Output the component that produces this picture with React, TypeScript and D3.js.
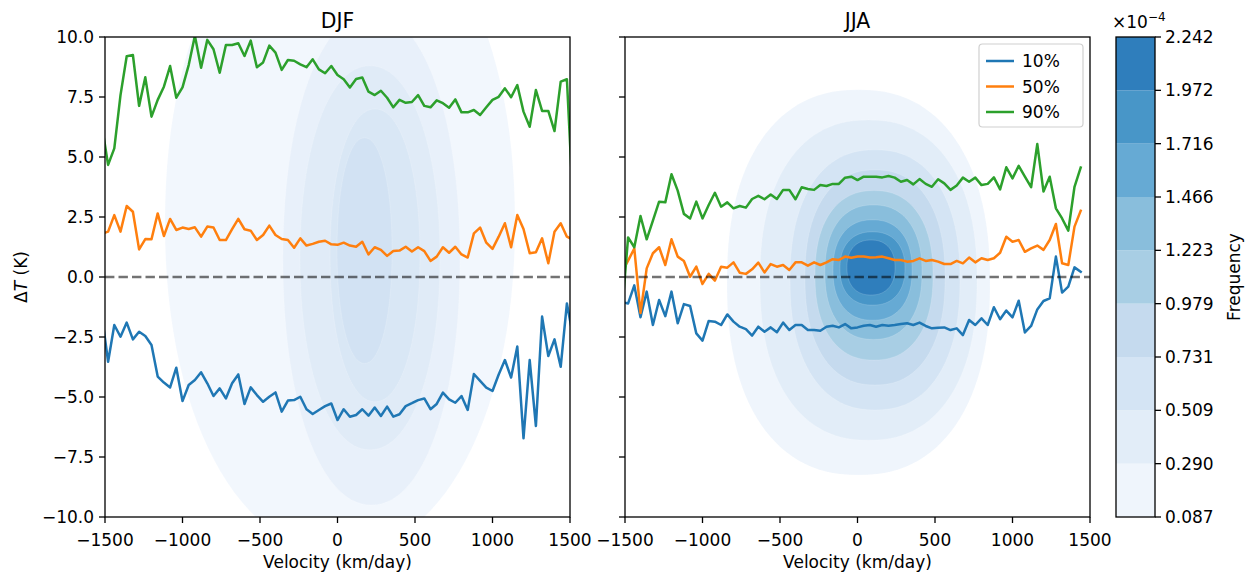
import React from "react";
import * as d3 from "d3";

// ---------------- DATA ----------------
const BIN_START = -1520;
const BIN_STEP = 40;

const djfP10 = [-1.6, -3.53, -2.0, -2.49, -1.9, -2.6, -2.28, -2.46, -2.83, -4.15,
  -4.4, -4.6, -3.78, -5.17, -4.5, -4.29, -3.97, -4.43, -4.96, -4.64,
  -5.06, -4.43, -4.06, -5.29, -4.6, -4.92, -5.2, -4.99, -4.81, -5.61,
  -5.15, -5.13, -4.99, -5.51, -5.71, -5.54, -5.38, -5.27, -5.96, -5.51,
  -5.82, -5.75, -5.51, -5.78, -5.44, -5.79, -5.4, -5.82, -5.72, -5.38,
  -5.26, -5.13, -5.06, -5.51, -5.29, -4.82, -5.1, -5.24, -4.96, -5.54,
  -4.04, -4.33, -4.61, -4.75, -4.06, -3.46, -4.19, -2.9, -6.72, -3.46,
  -6.21, -1.65, -3.29, -2.6, -3.74, -1.1, -2.5];
const djfP50 = [1.8, 1.89, 2.58, 1.89, 2.96, 2.72, 1.15, 1.58, 1.57, 2.65,
  1.71, 2.42, 1.96, 2.06, 2.0, 2.07, 1.68, 2.1, 2.06, 1.54,
  1.54, 1.99, 2.42, 1.99, 1.93, 1.54, 1.75, 2.14, 1.75, 1.58,
  1.54, 1.22, 1.61, 1.31, 1.38, 1.47, 1.51, 1.36, 1.34, 1.43,
  1.31, 1.26, 1.47, 0.94, 1.24, 1.13, 0.88, 1.08, 1.1, 1.26,
  1.06, 1.24, 1.08, 0.67, 0.85, 1.24, 1.01, 1.26, 0.94, 0.81,
  1.82, 2.06, 1.43, 1.17, 1.68, 2.24, 1.24, 2.58, 2.0, 0.99,
  1.03, 1.61, 0.57, 1.89, 2.24, 1.68, 1.55];
const djfP90 = [6.3, 4.67, 5.36, 7.58, 9.2, 9.25, 7.13, 8.32, 6.68, 7.38,
  7.93, 8.79, 7.47, 7.9, 8.83, 10.05, 8.72, 9.88, 9.49, 8.51,
  9.67, 9.67, 9.74, 9.21, 9.85, 8.74, 8.94, 9.64, 9.35, 8.63,
  9.04, 9.01, 8.86, 8.74, 9.07, 8.65, 8.49, 8.79, 8.42, 8.24,
  7.9, 8.25, 8.31, 7.72, 7.58, 7.76, 7.47, 7.07, 7.38, 7.26,
  7.29, 7.58, 7.13, 7.07, 7.36, 7.24, 7.05, 7.4, 6.86, 6.86,
  6.96, 6.75, 7.07, 7.38, 7.51, 7.86, 7.49, 8.0, 6.89, 6.26,
  7.79, 6.92, 6.92, 6.08, 8.14, 8.24, 3.0];

const jjaP10 = [-1.05, -1.1, -0.35, -1.68, -0.61, -2.0, -0.96, -1.63, -0.61, -1.93,
  -1.13, -1.21, -2.35, -2.65, -1.83, -1.86, -2.0, -1.56, -1.86, -2.07,
  -2.17, -2.44, -2.07, -2.28, -2.1, -2.3, -1.9, -2.21, -2.0, -2.0,
  -2.21, -2.21, -2.24, -2.07, -2.03, -2.1, -1.96, -2.14, -2.1, -2.03,
  -2.0, -2.07, -2.0, -2.03, -2.0, -1.96, -1.93, -2.0, -1.9, -2.04,
  -2.14, -2.11, -2.1, -2.21, -2.14, -2.42, -1.79, -2.0, -1.72, -2.0,
  -1.26, -1.76, -1.4, -1.68, -0.99, -2.31, -2.04, -1.35, -1.0, -0.89,
  0.85, -0.65, -0.4, 0.4, 0.22];
const jjaP50 = [0.2, 0.68, 1.19, -1.5, 0.36, 0.99, 1.24, 0.5, 1.57, 0.85,
  0.67, 0.01, 0.43, -0.29, 0.13, -0.15, 0.43, 0.39, 0.61, 0.18,
  0.13, 0.32, 0.6, 0.19, 0.54, 0.43, 0.5, 0.29, 0.61, 0.61,
  0.47, 0.61, 0.5, 0.61, 0.74, 0.71, 0.85, 0.8, 0.85, 0.85,
  0.81, 0.82, 0.85, 0.78, 0.71, 0.71, 0.64, 0.67, 0.78, 0.67,
  0.71, 0.64, 0.54, 0.54, 0.67, 0.57, 0.81, 0.61, 0.78, 0.71,
  0.78, 1.01, 1.68, 1.47, 1.54, 1.05, 1.19, 1.31, 1.13, 1.54,
  2.21, 0.57, 0.5, 2.1, 2.76];
const jjaP90 = [-1.5, 1.65, 1.24, 2.54, 1.57, 2.35, 3.14, 3.11, 4.28, 3.6,
  2.63, 2.44, 3.14, 2.44, 3.0, 3.51, 2.93, 3.11, 2.86, 2.96,
  2.89, 3.25, 3.38, 3.24, 3.44, 3.25, 3.63, 3.63, 3.24, 3.74,
  3.67, 3.63, 3.83, 3.79, 3.88, 3.88, 4.14, 4.18, 4.04, 4.18,
  4.18, 4.18, 4.15, 4.21, 4.14, 3.97, 4.04, 3.86, 4.08, 3.88,
  3.76, 4.07, 3.9, 3.63, 3.81, 4.14, 3.97, 4.14, 3.83, 3.88,
  4.15, 3.65, 4.57, 4.11, 4.63, 4.18, 3.74, 5.54, 3.56, 4.18,
  2.86, 2.44, 1.93, 3.76, 4.56];

// Density level boundaries (x1e-4) and band colours
const levelBounds = [0.087, 0.290, 0.509, 0.731, 0.979, 1.223, 1.466, 1.716, 1.972, 2.242];
const levelColors = ["#eff5fc", "#e2edf8", "#d4e4f4", "#c5daee", "#a8cee4", "#89bedc", "#66aad4", "#4896c8", "#2f7ebc"];
const djfColors = ["#f2f7fd", "#e8f0fa", "#e0ebf7", "#d9e7f5", "#d2e2f3"];

// Contour extents per level: [vMin, vMax, dTMin, dTMax]
const djfContours = [
  [-1113, 1145, -11.5, 16.0],
  [-352, 790, -9.5, 11.0],
  [-242, 661, -7.2, 8.8],
  [-48, 532, -5.2, 7.0],
  [-3, 352, -3.6, 5.8],
];
const jjaContours = [
  [-842, 855, -8.25, 7.8],
  [-629, 771, -6.8, 6.54],
  [-435, 661, -5.54, 5.3],
  [-339, 565, -4.5, 4.46],
  [-274, 487, -3.46, 3.6],
  [-210, 416, -2.6, 3.0],
  [-158, 352, -1.8, 2.38],
  [-113, 306, -1.17, 1.88],
  [-68, 242, -0.75, 1.54],
];

const xTicks = [-1500, -1000, -500, 0, 500, 1000, 1500];
const yTicks = [-10, -7.5, -5, -2.5, 0, 2.5, 5, 7.5, 10];
const seriesNames = ["10%", "50%", "90%"];
const seriesColors = ["#1f77b4", "#ff7f0e", "#2ca02c"];

// ---------------- LAYOUT ----------------
const W = 1250, H = 575;
const TOP = 37, BOTTOM = 517;
const panels = [
  { key: "djf", title: "DJF", x0: 105, x1: 570, series: [djfP10, djfP50, djfP90], contours: djfContours, colors: djfColors, n: 2.1, yLabels: true },
  { key: "jja", title: "JJA", x0: 625, x1: 1090, series: [jjaP10, jjaP50, jjaP90], contours: jjaContours, colors: levelColors, n: 2.3, yLabels: false },
];
const CB = { x0: 1116, x1: 1155 };
const FONT = "DejaVu Sans, Liberation Sans, sans-serif";
const FS = 17;
const TICK = 6;
const SPINE = 1.3;

const fmtTick = (v: number) => String(v).replace("-", "\u2212");
const fmtY = (v: number) => v.toFixed(1).replace("-", "\u2212");

function blobPath(ext: number[], xs: any, ys: any, n: number) {
  const [a, b, c, d] = ext;
  const cx = (a + b) / 2, rx = (b - a) / 2, cy = (c + d) / 2, ry = (d - c) / 2;
  const pts: [number, number][] = d3.range(0, 360, 3).map((deg) => {
    const t = (deg * Math.PI) / 180;
    const ct = Math.cos(t), st = Math.sin(t);
    const px = cx + rx * Math.sign(ct) * Math.pow(Math.abs(ct), 2 / n);
    const py = cy + ry * Math.sign(st) * Math.pow(Math.abs(st), 2 / n);
    return [xs(px), ys(py)];
  });
  return d3.line().curve(d3.curveLinearClosed)(pts) || "";
}

function Panel({ p }: { p: any }) {
  const xs = d3.scaleLinear().domain([-1500, 1500]).range([p.x0, p.x1]);
  const ys = d3.scaleLinear().domain([-10, 10]).range([BOTTOM, TOP]);
  const line = d3.line<number>()
    .x((_, i) => xs(BIN_START + i * BIN_STEP))
    .y((d) => ys(d));
  const clipId = `clip-${p.key}`;
  return (
    <g>
      <defs>
        <clipPath id={clipId}>
          <rect x={p.x0} y={TOP} width={p.x1 - p.x0} height={BOTTOM - TOP} />
        </clipPath>
      </defs>
      <g clipPath={`url(#${clipId})`}>
        {p.contours.map((ext: number[], i: number) => (
          <path key={i} d={blobPath(ext, xs, ys, p.n)} fill={p.colors[i]} stroke="#fff" strokeOpacity={0.25} strokeWidth={0.6} />
        ))}
        {p.series.map((s: number[], i: number) => (
          <path key={i} d={line(s) || ""} fill="none" stroke={seriesColors[i]} strokeWidth={2.5} strokeLinejoin="round" strokeLinecap="square" />
        ))}
        <line x1={p.x0} x2={p.x1} y1={ys(0)} y2={ys(0)} stroke="#000" strokeOpacity={0.55} strokeWidth={2.5} strokeDasharray="9.4,4.1" />
      </g>
      <rect x={p.x0} y={TOP} width={p.x1 - p.x0} height={BOTTOM - TOP} fill="none" stroke="#000" strokeWidth={SPINE} />
      {xTicks.map((t) => (
        <g key={t}>
          <line x1={xs(t)} x2={xs(t)} y1={BOTTOM} y2={BOTTOM + TICK} stroke="#000" strokeWidth={SPINE} />
          <text x={xs(t)} y={BOTTOM + 29} textAnchor="middle" fontSize={FS} fontFamily={FONT} fill="#000">{fmtTick(t)}</text>
        </g>
      ))}
      {yTicks.map((t) => (
        <g key={t}>
          <line x1={p.x0 - TICK} x2={p.x0} y1={ys(t)} y2={ys(t)} stroke="#000" strokeWidth={SPINE} />
          {p.yLabels && (
            <text x={p.x0 - 11} y={ys(t)} dy="0.36em" textAnchor="end" fontSize={FS} fontFamily={FONT} fill="#000">{fmtY(t)}</text>
          )}
        </g>
      ))}
      <text x={(p.x0 + p.x1) / 2} y={28} textAnchor="middle" fontSize={20.4} fontFamily={FONT} fill="#000">{p.title}</text>
      <text x={(p.x0 + p.x1) / 2} y={568} textAnchor="middle" fontSize={FS} fontFamily={FONT} fill="#000">Velocity (km/day)</text>
    </g>
  );
}

function Legend() {
  const x = 979, y = 44, w = 104, h = 83;
  return (
    <g>
      <rect x={x} y={y} width={w} height={h} rx={3.5} fill="#fff" fillOpacity={0.8} stroke="#d0d0d0" strokeWidth={1.2} />
      {seriesNames.map((n, i) => {
        const cy = y + 17 + i * 25.5;
        return (
          <g key={n}>
            <line x1={x + 7} x2={x + 35} y1={cy} y2={cy} stroke={seriesColors[i]} strokeWidth={2.5} />
            <text x={x + 43} y={cy} dy="0.36em" fontSize={FS} fontFamily={FONT} fill="#000">{n}</text>
          </g>
        );
      })}
    </g>
  );
}

function Colorbar() {
  const ys = d3.scaleLinear().domain([0, levelBounds.length - 1]).range([BOTTOM, TOP]);
  return (
    <g>
      {levelColors.map((c, i) => (
        <rect key={i} x={CB.x0} y={ys(i + 1)} width={CB.x1 - CB.x0} height={ys(i) - ys(i + 1)} fill={c} />
      ))}
      <rect x={CB.x0} y={TOP} width={CB.x1 - CB.x0} height={BOTTOM - TOP} fill="none" stroke="#000" strokeWidth={SPINE} />
      {levelBounds.map((b, i) => (
        <g key={i}>
          <line x1={CB.x1} x2={CB.x1 + TICK} y1={ys(i)} y2={ys(i)} stroke="#000" strokeWidth={SPINE} />
          <text x={CB.x1 + 10} y={ys(i)} dy="0.36em" fontSize={FS} fontFamily={FONT} fill="#000">{b.toFixed(3)}</text>
        </g>
      ))}
      <text x={CB.x0 - 4} y={28} fontSize={FS} fontFamily={FONT} fill="#000">
        ×10<tspan dy={-7} fontSize={12}>−4</tspan>
      </text>
      <text transform={`translate(1240,${(TOP + BOTTOM) / 2}) rotate(-90)`} textAnchor="middle" fontSize={FS} fontFamily={FONT} fill="#000">Frequency</text>
    </g>
  );
}

export default function App() {
  return (
    <svg width={W} height={H} style={{ display: "block", position: "absolute", left: 0, top: 0, background: "#fff" }}>
      <rect x={0} y={0} width={W} height={H} fill="#fff" />
      {panels.map((p) => <Panel key={p.key} p={p} />)}
      <Legend />
      <Colorbar />
      <text transform={`translate(27,${(TOP + BOTTOM) / 2}) rotate(-90)`} textAnchor="middle" fontSize={FS} fontFamily={FONT} fill="#000">
        Δ<tspan fontStyle="italic">T</tspan> (K)
      </text>
    </svg>
  );
}
